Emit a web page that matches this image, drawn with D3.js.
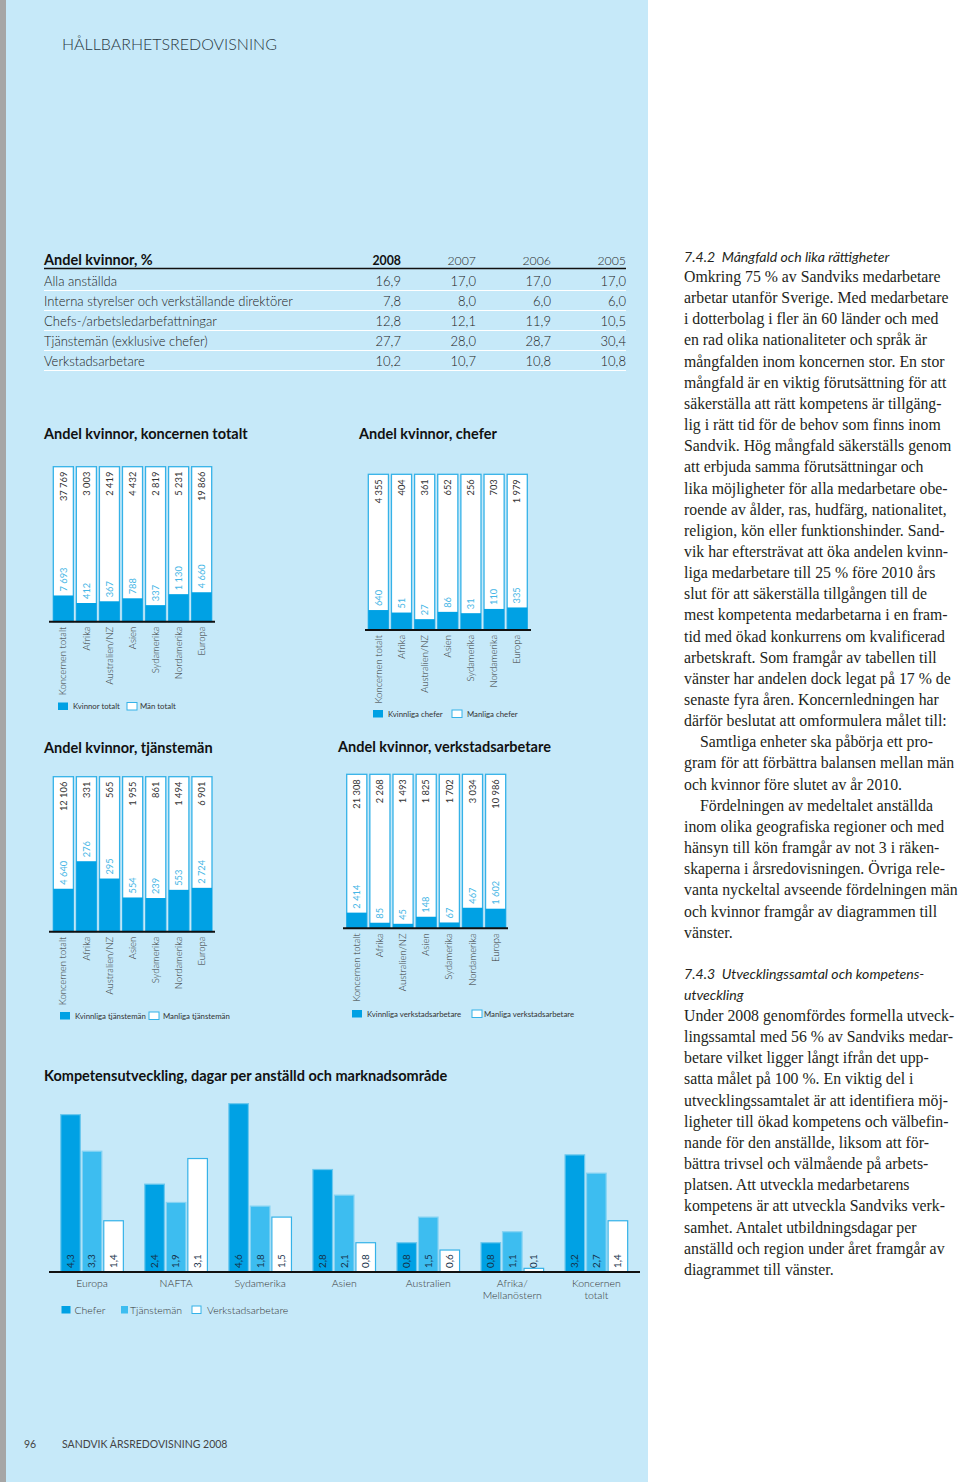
<!DOCTYPE html>
<html>
<head>
<meta charset="utf-8">
<script src="https://cdn.jsdelivr.net/npm/d3@7"></script>
<style>
  html, body { margin: 0; padding: 0; background: #fff; }
  svg { display: block; }
  text { font-family: Lato, "Open Sans", sans-serif; }
  .title { font-weight: 700; font-size: 14.5px; fill: #111; }
  .serif { font-family: "Liberation Serif", "DejaVu Serif", serif; font-size: 15.8px; fill: #231f20; }
  .head { font-style: italic; font-size: 14.1px; fill: #231f20; white-space: pre; }
</style>
</head>
<body>
<div id="page"></div>
<script>
"use strict";

// ---- data ----
var tableYears = ["2008", "2007", "2006", "2005"];
var tableRows = ["Alla anställda", "Interna styrelser och verkställande direktörer",
  "Chefs-/arbetsledarbefattningar", "Tjänstemän (exklusive chefer)", "Verkstadsarbetare"];
var tableValues = [
  [16.9, 17.0, 17.0, 17.0],
  [7.8, 8.0, 6.0, 6.0],
  [12.8, 12.1, 11.9, 10.5],
  [27.7, 28.0, 28.7, 30.4],
  [10.2, 10.7, 10.8, 10.8]
];

var regions = ["Koncernen totalt", "Afrika", "Australien/NZ", "Asien", "Sydamerika", "Nordamerika", "Europa"];

var totalWomen = [7693, 412, 367, 788, 337, 1130, 4660];
var totalMen = [37769, 3003, 2419, 4432, 2819, 5231, 19866];

var cheferWomen = [640, 51, 27, 86, 31, 110, 335];
var cheferMen = [4355, 404, 361, 652, 256, 703, 1979];

var tjanstWomen = [4640, 276, 295, 554, 239, 553, 2724];
var tjanstMen = [12106, 331, 565, 1955, 861, 1494, 6901];

var verkWomen = [2414, 85, 45, 148, 67, 467, 1602];
var verkMen = [21308, 2268, 1493, 1825, 1702, 3034, 10986];

var devGroups = ["Europa", "NAFTA", "Sydamerika", "Asien", "Australien", "Afrika/Mellanöstern", "Koncernen totalt"];
var devLabels = [["Europa"], ["NAFTA"], ["Sydamerika"], ["Asien"], ["Australien"], ["Afrika/", "Mellanöstern"], ["Koncernen", "totalt"]];
var devSeries = ["Chefer", "Tjänstemän", "Verkstadsarbetare"];
var devChefer = [4.3, 2.4, 4.6, 2.8, 0.8, 0.8, 3.2];
var devTjanst = [3.3, 1.9, 1.8, 2.1, 1.5, 1.1, 2.7];
var devVerk = [1.4, 3.1, 1.5, 0.8, 0.6, 0.1, 1.4];

var text1 = [
  "Omkring 75 % av Sandviks medarbetare",
  "arbetar utanför Sverige. Med medarbetare",
  "i dotterbolag i fler än 60 länder och med",
  "en rad olika nationaliteter och språk är",
  "mångfalden inom koncernen stor. En stor",
  "mångfald är en viktig förutsättning för att",
  "säkerställa att rätt kompetens är tillgäng-",
  "lig i rätt tid för de behov som finns inom",
  "Sandvik. Hög mångfald säkerställs genom",
  "att erbjuda samma förutsättningar och",
  "lika möjligheter för alla medarbetare obe-",
  "roende av ålder, ras, hudfärg, nationalitet,",
  "religion, kön eller funktionshinder. Sand-",
  "vik har eftersträvat att öka andelen kvinn-",
  "liga medarbetare till 25 % före 2010 års",
  "slut för att säkerställa tillgången till de",
  "mest kompetenta medarbetarna i en fram-",
  "tid med ökad konkurrens om kvalificerad",
  "arbetskraft. Som framgår av tabellen till",
  "vänster har andelen dock legat på 17 % de",
  "senaste fyra åren. Koncernledningen har",
  "därför beslutat att omformulera målet till:",
  ">Samtliga enheter ska påbörja ett pro-",
  "gram för att förbättra balansen mellan män",
  "och kvinnor före slutet av år 2010.",
  ">Fördelningen av medeltalet anställda",
  "inom olika geografiska regioner och med",
  "hänsyn till kön framgår av not 3 i räken-",
  "skaperna i årsredovisningen. Övriga rele-",
  "vanta nyckeltal avseende fördelningen män",
  "och kvinnor framgår av diagrammen till",
  "vänster."
];
var text2 = [
  "Under 2008 genomfördes formella utveck-",
  "lingssamtal med 56 % av Sandviks medar-",
  "betare vilket ligger långt ifrån det upp-",
  "satta målet på 100 %. En viktig del i",
  "utvecklingssamtalet är att identifiera möj-",
  "ligheter till ökad kompetens och välbefin-",
  "nande för den anställde, liksom att för-",
  "bättra trivsel och välmående på arbets-",
  "platsen. Att utveckla medarbetarens",
  "kompetens är att utveckla Sandviks verk-",
  "samhet. Antalet utbildningsdagar per",
  "anställd och region under året framgår av",
  "diagrammet till vänster."
];

// ---- setup ----
var W = 960, H = 1482;
var blue = "#00a1e4", frameBlue = "#35b2e8", lightBlue = "#3dbdf0", femText = "#45b6e6";
var se = d3.formatLocale({decimal: ",", thousands: "\u00a0", grouping: [3], currency: ["", ""]});
var fmtInt = se.format(",d"), fmtDec = se.format(".1f");

var svg = d3.select("#page").append("svg").attr("width", W).attr("height", H);

svg.append("rect").attr("x", 0).attr("y", 0).attr("width", 648).attr("height", H).attr("fill", "#c6e9f9");
svg.append("rect").attr("x", 0).attr("y", 0).attr("width", 6).attr("height", H).attr("fill", "#a6a6a6");

svg.append("text").attr("x", 62).attr("y", 50).style("font-size", "16px").style("font-weight", 300)
  .attr("fill", "#2b3a44").text("HÅLLBARHETSREDOVISNING");
svg.append("text").attr("x", 24).attr("y", 1448).style("font-size", "10.5px").attr("fill", "#444").text("96");
svg.append("text").attr("x", 62).attr("y", 1448).style("font-size", "10.5px").attr("fill", "#444")
  .text("SANDVIK ÅRSREDOVISNING 2008");

// ---- table ----
var colX = [401, 476, 551, 626];
var tbl = svg.append("g");
tbl.append("text").attr("class", "title").attr("x", 44).attr("y", 264.5).text("Andel kvinnor, %");
tbl.selectAll(".yr").data(tableYears).join("text")
  .attr("x", (d, i) => colX[i]).attr("y", 264.5).attr("text-anchor", "end")
  .style("font-size", "12.3px").style("font-weight", (d, i) => i === 0 ? 700 : 300)
  .attr("fill", (d, i) => i === 0 ? "#111" : "#2a2a2a").text(d => d);
tbl.append("line").attr("x1", 44).attr("x2", 626).attr("y1", 268.5).attr("y2", 268.5)
  .attr("stroke", "#111").attr("stroke-width", 1.6);
var rowG = tbl.selectAll(".row").data(tableRows).join("g")
  .attr("transform", (d, i) => "translate(0," + (285.5 + i * 20) + ")");
rowG.append("text").attr("x", 44).style("font-size", "13px").style("font-weight", 300)
  .attr("fill", "#222").text(d => d);
rowG.append("line").attr("x1", 44).attr("x2", 626).attr("y1", 5).attr("y2", 5)
  .attr("stroke", "#fff").attr("stroke-width", 1);
rowG.selectAll(".v").data((d, i) => tableValues[i]).join("text")
  .attr("x", (d, j) => colX[j]).attr("text-anchor", "end")
  .style("font-size", "13px").style("font-weight", 300).attr("fill", "#222").text(d => fmtDec(d));

// ---- stacked share charts ----
function legend(g, y, items) {
  items.forEach(function (it) {
    g.append("rect").attr("x", it.sx).attr("y", y - 4).attr("width", 10).attr("height", 7.5)
      .attr("fill", it.fill).attr("stroke", it.stroke || "none").attr("stroke-width", 1);
    g.append("text").attr("x", it.tx).attr("y", y + 2.6).style("font-size", "7.8px")
      .attr("fill", "#333").text(it.label);
  });
}

function stackChart(cfg) {
  var g = svg.append("g");
  g.append("text").attr("class", "title").attr("x", cfg.titleX).attr("y", cfg.titleY).text(cfg.title);

  var x = d3.scaleBand().domain(regions).range([cfg.x0, cfg.x1]).paddingInner(0.13);
  var y = d3.scaleLinear().domain([0, 1]).range([cfg.base, cfg.top]);
  var rows = regions.map(function (r, i) {
    return {region: r, women: cfg.women[i], men: cfg.men[i],
      share: cfg.women[i] / (cfg.women[i] + cfg.men[i])};
  });

  g.selectAll(".frame").data(rows).join("rect")
    .attr("x", d => x(d.region)).attr("y", y(1))
    .attr("width", x.bandwidth()).attr("height", y(0) - y(1))
    .attr("fill", "#fff").attr("stroke", frameBlue).attr("stroke-width", 1.3);
  g.selectAll(".fem").data(rows).join("rect")
    .attr("x", d => x(d.region)).attr("y", d => y(d.share))
    .attr("width", x.bandwidth()).attr("height", d => y(0) - y(d.share))
    .attr("fill", blue);

  var cx = d => x(d.region) + x.bandwidth() / 2 + 3.2;
  g.selectAll(".men").data(rows).join("text")
    .attr("transform", d => "translate(" + cx(d) + "," + (y(1) + 5) + ") rotate(-90)")
    .attr("text-anchor", "end").style("font-size", "9.3px")
    .attr("fill", "#333").text(d => fmtInt(d.men));
  g.selectAll(".wom").data(rows).join("text")
    .attr("transform", d => "translate(" + cx(d) + "," + (y(d.share) - 4) + ") rotate(-90)")
    .attr("text-anchor", "start").style("font-size", "9.3px")
    .attr("fill", femText).text(d => fmtInt(d.women));

  var ax = g.append("g").attr("transform", "translate(0," + cfg.base + ")")
    .call(d3.axisBottom(x).tickSize(0));
  ax.select(".domain").remove();
  ax.selectAll("text").attr("transform", "rotate(-90)").attr("x", -5).attr("y", 0).attr("dy", "0.33em")
    .style("text-anchor", "end").style("font-size", "9.5px").style("font-weight", 300)
    .style("font-family", "Lato, sans-serif").attr("fill", "#333");
  g.append("line").attr("x1", cfg.ax0).attr("x2", cfg.ax1).attr("y1", cfg.base).attr("y2", cfg.base)
    .attr("stroke", "#111").attr("stroke-width", 2);

  legend(g, cfg.legY, [
    {sx: cfg.leg[0], tx: cfg.leg[1], fill: blue, label: cfg.legLabels[0]},
    {sx: cfg.leg[2], tx: cfg.leg[3], fill: "#fff", stroke: frameBlue, label: cfg.legLabels[1]}
  ]);
}

stackChart({title: "Andel kvinnor, koncernen totalt", titleX: 44, titleY: 439,
  women: totalWomen, men: totalMen, x0: 53.3, x1: 211.7, top: 466.7, base: 621.7, ax0: 49, ax1: 215,
  legY: 706.5, leg: [58, 73, 127, 140], legLabels: ["Kvinnor totalt", "Män totalt"]});
stackChart({title: "Andel kvinnor, chefer", titleX: 359, titleY: 439,
  women: cheferWomen, men: cheferMen, x0: 368.3, x1: 527.3, top: 474.3, base: 630, ax0: 365, ax1: 531,
  legY: 714, leg: [373, 388, 452, 467], legLabels: ["Kvinnliga chefer", "Manliga chefer"]});
stackChart({title: "Andel kvinnor, tjänstemän", titleX: 44, titleY: 753,
  women: tjanstWomen, men: tjanstMen, x0: 53.3, x1: 212, top: 776.7, base: 931.7, ax0: 49, ax1: 215,
  legY: 1016, leg: [60, 75, 149, 163], legLabels: ["Kvinnliga tjänstemän", "Manliga tjänstemän"]});
stackChart({title: "Andel kvinnor, verkstadsarbetare", titleX: 338, titleY: 751.5,
  women: verkWomen, men: verkMen, x0: 346.7, x1: 505.7, top: 774.3, base: 928.3, ax0: 343, ax1: 508,
  legY: 1014, leg: [352, 367, 472, 484], legLabels: ["Kvinnliga verkstadsarbetare", "Manliga verkstadsarbetare"]});

// ---- grouped bar chart ----
(function () {
  var g = svg.append("g");
  g.append("text").attr("class", "title").attr("x", 44).attr("y", 1081)
    .text("Kompetensutveckling, dagar per anställd och marknadsområde");

  var base = 1272;
  var x0 = d3.scaleBand().domain(devGroups).range([39.3, 649.1]).paddingInner(0.255).paddingOuter(0.255);
  var x1 = d3.scaleBand().domain(devSeries).range([0, x0.bandwidth()]).paddingInner(0.09);
  var y = d3.scaleLinear().domain([0, 5]).range([base, base - 183]);
  var fills = {"Chefer": blue, "Tjänstemän": lightBlue, "Verkstadsarbetare": "#fff"};
  var strokes = {"Chefer": "#6cc8ee", "Tjänstemän": "#86d3f3", "Verkstadsarbetare": frameBlue};

  var rows = devGroups.map(function (grp, i) {
    return {group: grp, values: [
      {s: "Chefer", v: devChefer[i]}, {s: "Tjänstemän", v: devTjanst[i]}, {s: "Verkstadsarbetare", v: devVerk[i]}
    ]};
  });

  var gg = g.selectAll(".grp").data(rows).join("g")
    .attr("transform", d => "translate(" + x0(d.group) + ",0)");
  gg.selectAll("rect").data(d => d.values).join("rect")
    .attr("x", d => x1(d.s)).attr("y", d => y(d.v))
    .attr("width", x1.bandwidth()).attr("height", d => y(0) - y(d.v))
    .attr("fill", d => fills[d.s]).attr("stroke", d => strokes[d.s]).attr("stroke-width", 1.2);
  gg.selectAll("text").data(d => d.values).join("text")
    .attr("transform", d => "translate(" + (x1(d.s) + x1.bandwidth() / 2 + 3.4) + "," + (base - 4) + ") rotate(-90)")
    .attr("text-anchor", "start").style("font-size", "9.8px").style("font-weight", 400)
    .attr("fill", "#15324a").text(d => fmtDec(d.v));

  var ax = g.append("g").attr("transform", "translate(0," + base + ")")
    .call(d3.axisBottom(x0).tickSize(0).tickFormat(""));
  ax.select(".domain").remove();
  ax.selectAll(".tick").each(function (d, i) {
    var t = d3.select(this).append("text").attr("text-anchor", "middle")
      .style("font-size", "10.5px").style("font-weight", 300).style("font-family", "Lato, sans-serif")
      .attr("fill", "#333");
    devLabels[i].forEach(function (l, k) {
      t.append("tspan").attr("x", 0).attr("y", 14.5 + k * 12.5).text(l);
    });
  });
  g.append("line").attr("x1", 49).attr("x2", 640).attr("y1", base).attr("y2", base)
    .attr("stroke", "#111").attr("stroke-width", 2);

  var legItems = [
    {sx: 61.5, tx: 74.5, fill: blue, label: "Chefer"},
    {sx: 121, tx: 130, fill: lightBlue, label: "Tjänstemän", w: 7},
    {sx: 192, tx: 207, fill: "#fff", stroke: frameBlue, label: "Verkstadsarbetare"}
  ];
  legItems.forEach(function (it) {
    g.append("rect").attr("x", it.sx).attr("y", 1306).attr("width", it.w || 9).attr("height", 7.5)
      .attr("fill", it.fill).attr("stroke", it.stroke || "none");
    g.append("text").attr("x", it.tx).attr("y", 1313.5).style("font-size", "10.5px")
      .style("font-weight", 300).attr("fill", "#333").text(it.label);
  });
})();

// ---- right column text ----
var lh = 21.15;
var col = svg.append("g");
col.append("text").attr("class", "head").attr("x", 684).attr("y", 261.5).text("7.4.2  Mångfald och lika rättigheter");
col.selectAll(".l1").data(text1).join("text").attr("class", "serif")
  .attr("x", d => d[0] === ">" ? 700 : 684).attr("y", (d, i) => 282 + i * lh)
  .text(d => d[0] === ">" ? d.slice(1) : d);
col.append("text").attr("class", "head").attr("x", 684).attr("y", 978.5).text("7.4.3  Utvecklingssamtal och kompetens-");
col.append("text").attr("class", "head").attr("x", 684).attr("y", 999.5).text("utveckling");
col.selectAll(".l2").data(text2).join("text").attr("class", "serif")
  .attr("x", 684).attr("y", (d, i) => 1021 + i * lh).text(d => d);
</script>
</body>
</html>
